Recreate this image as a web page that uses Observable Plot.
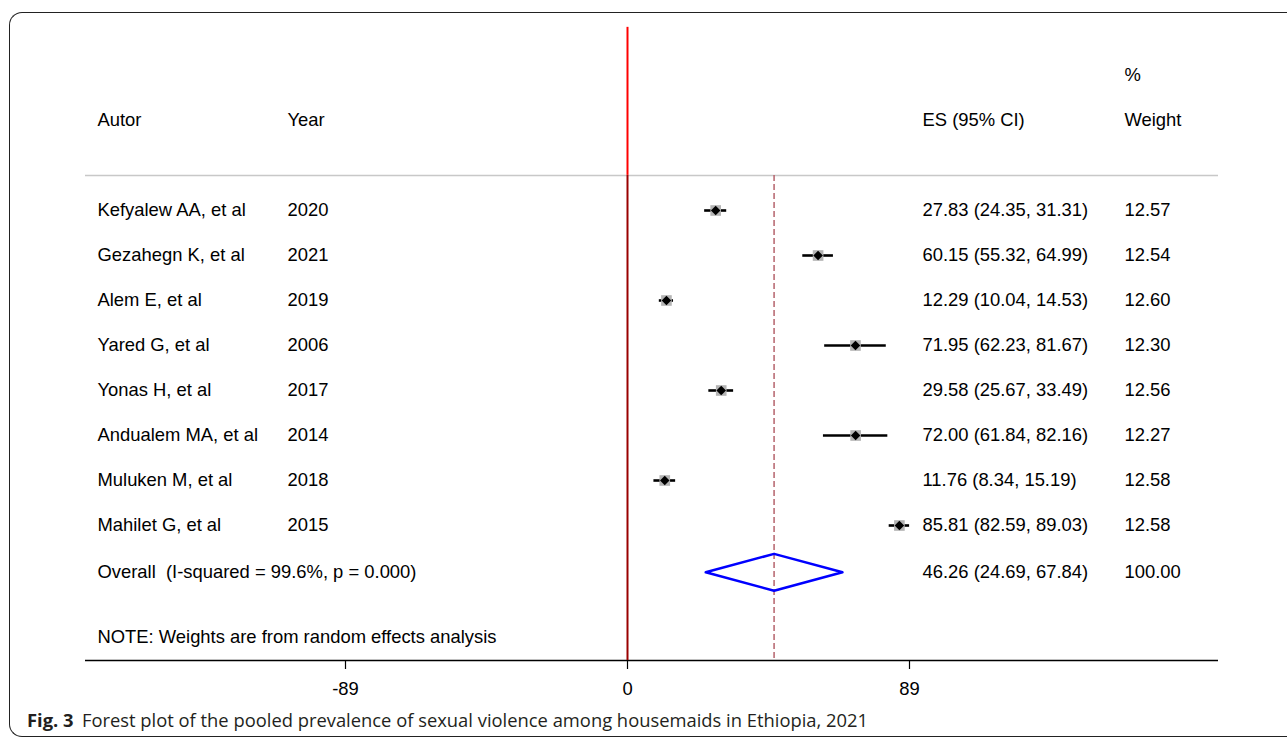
<!DOCTYPE html>
<html>
<head>
<meta charset="utf-8">
<script src="https://cdn.jsdelivr.net/npm/d3@7"></script>
<script src="https://cdn.jsdelivr.net/npm/@observablehq/plot@0.6"></script>
<style>
  html, body { margin: 0; padding: 0; background: #fff; width: 1287px; height: 739px; overflow: hidden; }
  #frame { position: absolute; left: 9px; top: 12px; width: 1400px; height: 725px; border: 1.3px solid #222; border-right: none; border-radius: 13px 0 0 13px; box-sizing: border-box; }
  #chart { position: absolute; left: 0; top: 0; }
  #caption { position: absolute; left: 27px; top: 708px; font-family: "Open Sans", "Noto Sans", sans-serif; font-size: 17.5px; color: #231f20; white-space: nowrap; transform-origin: 0 50%; }
  #caption b { font-weight: 700; margin-right: 8px; }
</style>
</head>
<body>
<div id="frame"></div>
<div id="chart"></div>
<div id="caption"><b>Fig. 3</b>Forest plot of the pooled prevalence of sexual violence among housemaids in Ethiopia, 2021</div>
<script>
// ---- data ----
const authors = ["Kefyalew AA, et al", "Gezahegn K, et al", "Alem E, et al", "Yared G, et al", "Yonas H, et al", "Andualem MA, et al", "Muluken M, et al", "Mahilet G, et al"];
const years = ["2020", "2021", "2019", "2006", "2017", "2014", "2018", "2015"];
const es = [27.83, 60.15, 12.29, 71.95, 29.58, 72.00, 11.76, 85.81];
const lo = [24.35, 55.32, 10.04, 62.23, 25.67, 61.84, 8.34, 82.59];
const hi = [31.31, 64.99, 14.53, 81.67, 33.49, 82.16, 15.19, 89.03];
const weights = [12.57, 12.54, 12.60, 12.30, 12.56, 12.27, 12.58, 12.58];
const overallLabel = "Overall  (I-squared = 99.6%, p = 0.000)";
const overallES = 46.26, overallLo = 24.69, overallHi = 67.84, overallWeight = 100.00;
const noteText = "NOTE: Weights are from random effects analysis";
const xTicks = [-89, 0, 89];
const headers = {author: "Autor", year: "Year", es: "ES (95% CI)", weightTop: "%", weight: "Weight"};

// ---- layout (pixel columns converted to data units) ----
const W = 1287, H = 700;
const xDomain = [-89, 89], xRange = [345, 909];
const toX = px => xDomain[0] + (px - xRange[0]) * (xDomain[1] - xDomain[0]) / (xRange[1] - xRange[0]);
const colAuthor = toX(97), colYear = toX(287), colES = toX(922), colW = toX(1124);
const lineLeft = toX(85), lineRight = toX(1218);
const rowHeadTop = -3, rowHead = -2, rowSep = -0.78, rowOverall = 8.04, rowNote = 9.49, rowAxis = 10, rowTop = -4.07;

const fmt = v => v.toFixed(2);
const studies = authors.map((a, i) => ({
  row: i, author: a, year: years[i], es: es[i], lo: lo[i], hi: hi[i],
  label: `${fmt(es[i])} (${fmt(lo[i])}, ${fmt(hi[i])})`, weight: fmt(weights[i])
}));
const dh = 0.41;
const diamond = [
  {x: overallLo, y: rowOverall}, {x: overallES, y: rowOverall - dh},
  {x: overallHi, y: rowOverall}, {x: overallES, y: rowOverall + dh},
  {x: overallLo, y: rowOverall}
];

const font = "'Liberation Sans', Arial, sans-serif";
const fs = 18.4;
const txt = (data, opts) => Plot.text(data, {fontSize: fs, fill: "#000", textAnchor: "start", fontFamily: font, ...opts});

const chart = Plot.plot({
  width: W, height: H,
  marginLeft: 0, marginRight: 0, marginTop: 0, marginBottom: 40,
  style: {fontFamily: font, background: "transparent", overflow: "visible"},
  x: {domain: xDomain, range: xRange, axis: null},
  y: {domain: [-4, 10], range: [30, 660], axis: null},
  marks: [
    // separator and axis lines
    Plot.ruleY([rowSep], {x1: lineLeft, x2: lineRight, stroke: "#c8c8c8", strokeWidth: 1.5}),
    Plot.ruleY([rowAxis], {x1: lineLeft, x2: lineRight, stroke: "#000", strokeWidth: 1.5}),
    // null line
    Plot.ruleX([0], {y1: rowTop, y2: rowSep, stroke: "#ff0000", strokeWidth: 2}),
    Plot.ruleX([0], {y1: rowSep, y2: rowAxis, stroke: "#9a0000", strokeWidth: 2}),
    // overall dashed line
    Plot.ruleX([overallES], {y1: rowSep, y2: rowAxis, stroke: "#b5636c", strokeWidth: 1.5, strokeDasharray: "6,3"}),
    // CIs
    Plot.ruleY(studies, {y: "row", x1: "lo", x2: "hi", stroke: "#000", strokeWidth: 2.6}),
    Plot.dot(studies, {x: "es", y: "row", symbol: "square", r: 6, fill: "#b4b4b4", stroke: "none"}),
    Plot.dot(studies, {x: "es", y: "row", symbol: "diamond2", r: 4.3, fill: "#000", stroke: "none"}),
    // overall diamond
    Plot.line(diamond, {x: "x", y: "y", stroke: "#0000ff", strokeWidth: 2.5, curve: "linear"}),
    // headers
    txt([headers.author], {x: colAuthor, y: rowHead, text: d => d}),
    txt([headers.year], {x: colYear, y: rowHead, text: d => d}),
    txt([headers.es], {x: colES, y: rowHead, text: d => d}),
    txt([headers.weightTop], {x: colW, y: rowHeadTop, text: d => d}),
    txt([headers.weight], {x: colW, y: rowHead, text: d => d}),
    // study rows
    txt(studies, {x: colAuthor, y: "row", text: "author"}),
    txt(studies, {x: colYear, y: "row", text: "year"}),
    txt(studies, {x: colES, y: "row", text: "label"}),
    txt(studies, {x: colW, y: "row", text: "weight"}),
    // overall row
    txt([overallLabel], {x: colAuthor, y: rowOverall, text: d => d}),
    txt([`${fmt(overallES)} (${fmt(overallLo)}, ${fmt(overallHi)})`], {x: colES, y: rowOverall, text: d => d}),
    txt([fmt(overallWeight)], {x: colW, y: rowOverall, text: d => d}),
    txt([noteText], {x: colAuthor, y: rowNote, text: d => d}),
    // x axis ticks
    Plot.axisX({ticks: xTicks, tickSize: 9, tickPadding: 12, tickFormat: d => String(d), fontSize: fs, fontFamily: font, stroke: "#000", strokeWidth: 1.2, color: "#000"})
  ]
});
document.getElementById("chart").appendChild(chart);

// fit caption width to the reference span
const cap = document.getElementById("caption");
const target = 841;
const w = cap.getBoundingClientRect().width;
if (w > 0) cap.style.transform = `scaleX(${target / w})`;
</script>
</body>
</html>
